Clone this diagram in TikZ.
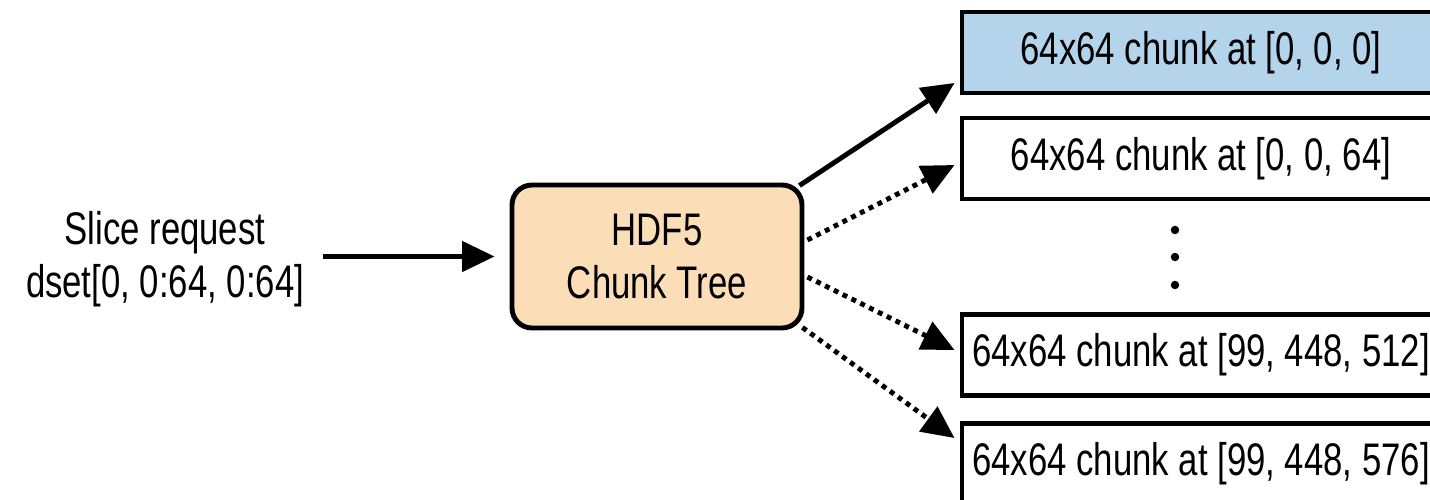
\documentclass[tikz,border=0pt]{standalone}
\usepackage{fontspec}
\setmainfont{Liberation Sans}[FakeStretch=0.76]
\usepackage{tikz}
\usetikzlibrary{arrows.meta}

\definecolor{chunkblue}{HTML}{B3D4EA}
\definecolor{treepeach}{HTML}{FBDDB8}

\begin{document}
\begin{tikzpicture}[
  txt/.style={font=\fontsize{26}{30}\selectfont},
  chunk/.style={txt, draw, line width=2.8pt, minimum width=9.56cm, minimum height=1.62cm, inner sep=0pt},
  arr/.style={line width=2.8pt, -{Triangle[length=0.65cm, width=0.6cm]}},
  dotarr/.style={arr, dash pattern=on 2.8pt off 2.8pt}
]
\path[use as bounding box, clip] (0,0) rectangle (28.6,9.98);

\node[txt, align=center] (req) at (3.3, 4.8) {Slice request\\dset[0, 0:64, 0:64]};
\node[txt, align=center, draw, line width=2.8pt, rounded corners=0.4cm, fill=treepeach,
      minimum width=5.8cm, minimum height=2.86cm] (tree) at (13.14, 4.85) {HDF5\\Chunk Tree};

\node[chunk, fill=chunkblue] (c1) at (24.02, 8.93) {64x64 chunk at [0, 0, 0]};
\node[chunk, fill=white] (c2) at (24.02, 6.81) {64x64 chunk at [0, 0, 64]};
\node[chunk, fill=white] (c3) at (24.02, 2.88) {64x64 chunk at [99, 448, 512]};
\node[chunk, fill=white] (c4) at (24.02, 0.7) {64x64 chunk at [99, 448, 576]};

\foreach \y in {5.38, 4.84, 4.28}
  \fill (23.5, \y) circle (0.085);

\draw[arr] ([xshift=0.25cm]req.east |- tree.west) -- ([xshift=-0.3cm]tree.west);
\draw[arr] ([shift={(-0.1,-0.06)}]tree.north east) -- ([shift={(-0.1,0.25)}]c1.south west);
\draw[dotarr] ([shift={(0.06,0.33)}]tree.east) -- ([shift={(-0.1,-0.13)}]c2.west);
\draw[dotarr] ([shift={(0.06,-0.41)}]tree.east) -- ([shift={(-0.1,0.1)}]c3.west);
\draw[dotarr] ([shift={(-0.04,0.06)}]tree.south east) -- ([shift={(-0.1,-0.34)}]c4.north west);
\end{tikzpicture}
\end{document}
